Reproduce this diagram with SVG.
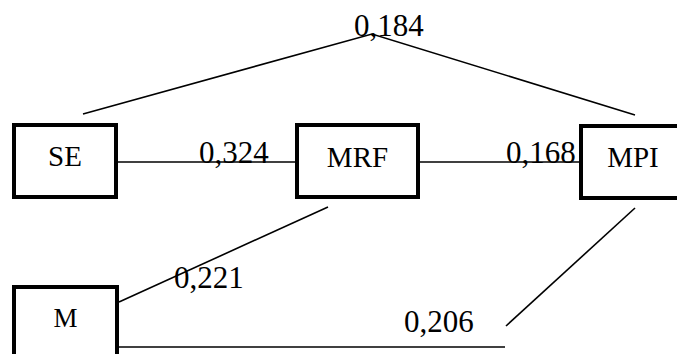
<svg xmlns="http://www.w3.org/2000/svg" width="677" height="354" viewBox="0 0 677 354">
<style>
.box{fill:#fff;stroke:#000;stroke-width:4}
.ln{stroke:#000;stroke-width:1.6;fill:none}
text{font-family:'Times New Roman','Liberation Serif',serif;fill:#000}
.lbl{font-size:29px}
.num{font-size:31px}
</style>
<rect width="677" height="354" fill="#fff"/>
<g id="connectors">
<polyline class="ln" points="83,114 372,34 635,115"/>
<line class="ln" x1="118" y1="162" x2="297" y2="162"/>
<line class="ln" x1="420" y1="162" x2="581" y2="162"/>
<line class="ln" x1="119" y1="302" x2="328" y2="207"/>
<line class="ln" x1="119" y1="347" x2="505" y2="347"/>
<line class="ln" x1="506" y1="326" x2="635" y2="208"/>
<text class="num" x="354" y="36">0,184</text>
<text class="num" x="199" y="163">0,324</text>
<text class="num" x="506" y="163">0,168</text>
<text class="num" x="174" y="288">0,221</text>
<text class="num" x="404" y="332">0,206</text>
</g>
<g id="SE">
<rect class="box" x="14" y="125" width="102" height="72"/>
<text class="lbl" x="65" y="166" text-anchor="middle">SE</text>
</g>
<g id="MRF">
<rect class="box" x="297" y="125" width="121" height="72"/>
<text class="lbl" x="357.5" y="167" text-anchor="middle">MRF</text>
</g>
<g id="MPI">
<rect class="box" x="581" y="126" width="110" height="72"/>
<text class="lbl" x="633" y="167" text-anchor="middle">MPI</text>
</g>
<g id="M">
<rect class="box" x="14" y="287" width="103" height="80"/>
<text class="lbl" x="65.5" y="327" text-anchor="middle" style="font-size:27px">M</text>
</g>
</svg>
